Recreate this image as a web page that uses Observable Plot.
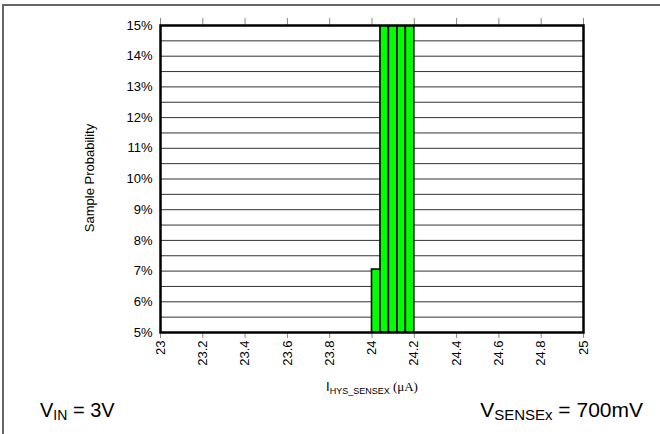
<!DOCTYPE html>
<html>
<head>
<meta charset="utf-8">
<script src="https://cdn.jsdelivr.net/npm/d3@7"></script>
<script src="https://cdn.jsdelivr.net/npm/@observablehq/plot@0.6"></script>
<style>
  body { margin: 0; background: white; }
  #chart { width: 660px; height: 434px; position: relative; overflow: hidden; }
  #chart svg { display: block; }
</style>
</head>
<body>
<div id="chart"></div>
<script>
// Histogram bins (µA) and sample probability
const binStart = [24.00, 24.04, 24.08, 24.12, 24.16];
const binEnd = [24.04, 24.08, 24.12, 24.16, 24.20];
const probability = [0.0705, 0.215, 0.263, 0.274, 0.1775];
// Axis ticks
const xTicks = [23, 23.2, 23.4, 23.6, 23.8, 24, 24.2, 24.4, 24.6, 24.8, 25];
const xTickLabels = ["23", "23.2", "23.4", "23.6", "23.8", "24", "24.2", "24.4", "24.6", "24.8", "25"];
const yTicks = [0.05, 0.06, 0.07, 0.08, 0.09, 0.10, 0.11, 0.12, 0.13, 0.14, 0.15];
const yTickLabels = ["5%", "6%", "7%", "8%", "9%", "10%", "11%", "12%", "13%", "14%", "15%"];
const gridLevels = [0.05, 0.055, 0.06, 0.065, 0.07, 0.075, 0.08, 0.085, 0.09, 0.095, 0.10,
  0.105, 0.11, 0.115, 0.12, 0.125, 0.13, 0.135, 0.14, 0.145, 0.15];

const bars = binStart.map((s, i) => ({x1: s, x2: binEnd[i], p: probability[i]}));

const plot = Plot.plot({
  width: 660,
  height: 434,
  marginTop: 25,
  marginLeft: 160,
  marginRight: 77,
  marginBottom: 102,
  style: {fontFamily: "'Liberation Sans', Arial, sans-serif", fontSize: "13px", background: "white", color: "black"},
  x: {domain: [23, 25]},
  y: {domain: [0.05, 0.15]},
  marks: [
    Plot.ruleY(gridLevels, {stroke: "#333", strokeWidth: 1}),
    Plot.rect(bars, {x1: "x1", x2: "x2", y1: () => 0.05, y2: "p", fill: "#00ff00", stroke: "black", strokeWidth: 1.6, clip: true}),
    Plot.axisY({ticks: yTicks, tickFormat: (d) => yTickLabels[yTicks.findIndex(t => Math.abs(t - d) < 1e-9)], tickSize: 0, tickPadding: 8, label: null, fontSize: 13}),
    Plot.axisX({ticks: xTicks, tickFormat: (d) => xTickLabels[xTicks.findIndex(t => Math.abs(t - d) < 1e-9)], tickSize: 6, tickPadding: 2, tickRotate: -90, label: null, stroke: "#888", fontSize: 13}),
    Plot.axisX({anchor: "top", ticks: xTicks, tickFormat: () => "", tickSize: 8, label: null, stroke: "#888"}),
    Plot.frame({stroke: "black", strokeWidth: 2.5})
  ]
});

document.getElementById("chart").appendChild(plot);

const svg = d3.select(plot);

// outer panel border (top and left edges visible)
svg.append("path")
  .attr("d", "M660,5 H3 V434")
  .attr("fill", "none")
  .attr("stroke", "#666")
  .attr("stroke-width", 2);

// y axis label
svg.append("text")
  .attr("transform", "translate(94,178) rotate(-90)")
  .attr("text-anchor", "middle")
  .attr("font-family", "'Liberation Sans', Arial, sans-serif")
  .attr("font-size", 13)
  .attr("fill", "black")
  .text("Sample Probability");

// x axis label
const xl = svg.append("text")
  .attr("x", 372).attr("y", 391)
  .attr("text-anchor", "middle")
  .attr("font-family", "'Liberation Sans', Arial, sans-serif")
  .attr("font-size", 13)
  .attr("fill", "black");
xl.append("tspan").text("I");
xl.append("tspan").attr("font-size", 9).attr("dy", 3).text("HYS_SENSEX");
xl.append("tspan").attr("dy", -3).attr("font-family", "'Liberation Serif', 'Times New Roman', serif").attr("font-size", 13).text(" (\u03bcA)");

// bottom conditions
const t1 = svg.append("text")
  .attr("x", 40).attr("y", 417)
  .attr("text-anchor", "start")
  .attr("font-family", "'Liberation Sans', Arial, sans-serif")
  .attr("font-size", 20).attr("fill", "black");
t1.append("tspan").text("V");
t1.append("tspan").attr("font-size", 14).attr("dy", 3).text("IN");
t1.append("tspan").attr("dy", -3).text(" = 3V");

const t2 = svg.append("text")
  .attr("x", 643).attr("y", 417)
  .attr("text-anchor", "end")
  .attr("font-family", "'Liberation Sans', Arial, sans-serif")
  .attr("font-size", 21).attr("fill", "black");
t2.append("tspan").text("V");
t2.append("tspan").attr("font-size", 15).attr("dy", 3).text("SENSEx");
t2.append("tspan").attr("dy", -3).text(" = 700mV");
</script>
</body>
</html>
